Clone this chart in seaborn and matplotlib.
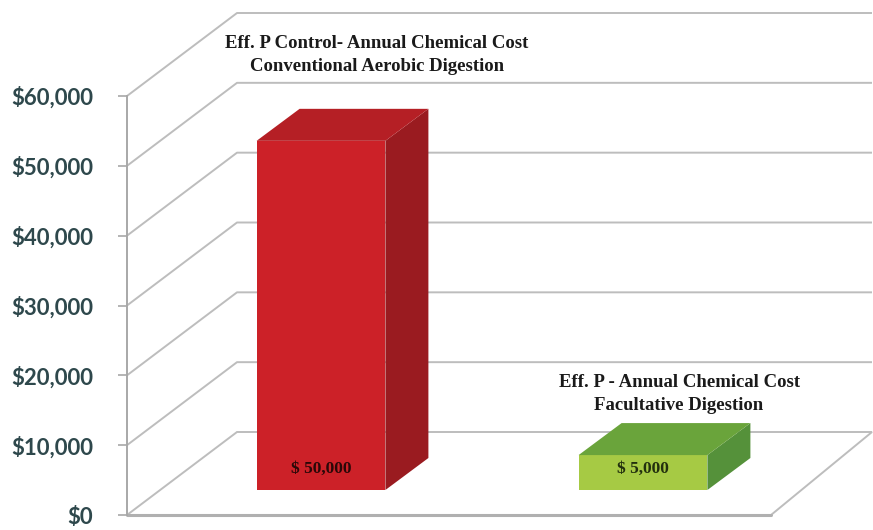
import matplotlib
matplotlib.use("Agg")
import matplotlib.pyplot as plt
from matplotlib.patches import Polygon
import seaborn as sns
import pandas as pd

# Annual chemical cost for effluent phosphorus control
digestion = ["Conventional Aerobic Digestion", "Facultative Digestion"]
annual_cost = [50000, 5000]
bar_titles = [
    "Eff. P Control- Annual Chemical Cost\nConventional Aerobic Digestion",
    "Eff. P - Annual Chemical Cost\nFacultative Digestion",
]
value_labels = ["$ 50,000", "$ 5,000"]
tick_values = [0, 10000, 20000, 30000, 40000, 50000, 60000]
tick_labels = ["$0", "$10,000", "$20,000", "$30,000", "$40,000", "$50,000", "$60,000"]

front_colors = ["#cc2128", "#a6ca44"]
top_colors = ["#b51f25", "#6aa43b"]
side_colors = ["#9a1b20", "#55913a"]
value_colors = ["#2a0808", "#22300e"]
grid_color = "#bdbdbd"

df = pd.DataFrame({"digestion": digestion, "cost": annual_cost})

W, H = 873, 530
sns.set_theme(style="white")
fig = plt.figure(figsize=(W / 100, H / 100), dpi=100)
fig.patch.set_facecolor("white")


def box(left, base, width, height):
    """Axes rectangle from pixel values measured from the top-left corner."""
    return [left / W, (H - base) / H, width / W, height / H]


PLANE_H = 419
ax_back = fig.add_axes(box(237, 432, 635, PLANE_H))   # back wall plane
ax = fig.add_axes(box(127, 515, 644, PLANE_H))        # front plane with the value axis
ax_bar = fig.add_axes(box(160, 490, 644, PLANE_H))    # plane the bars stand in

sns.barplot(data=df, x="digestion", y="cost", hue="digestion", palette=front_colors,
            width=0.4, saturation=1, linewidth=0, legend=False, ax=ax_bar)

for a in (ax_back, ax, ax_bar):
    a.set_xlim(-0.5, 1.5)
    a.set_ylim(0, 60000)
    a.patch.set_alpha(0)
    for s in a.spines.values():
        s.set_visible(False)
    a.set_xticks([])
    a.set_xlabel("")
    a.set_ylabel("")
ax_back.set_yticks([])
ax_bar.set_yticks([])
ax_back.set_zorder(0)
ax.set_zorder(1)
ax_bar.set_zorder(2)


def move(src, dst, x, y):
    return dst.transData.inverted().transform(src.transData.transform((x, y)))


# Back wall gridlines, each joined to its tick on the front axis
for v in tick_values[1:]:
    fx, fy = move(ax, ax_back, -0.5, v)
    ax_back.plot([fx, -0.5, 1.5], [fy, v, v], color=grid_color, lw=1.4,
                 clip_on=False, solid_capstyle="butt")

# Floor
corners = [move(ax, ax_back, -0.5, 0), move(ax, ax_back, 1.5, 0), (1.5, 0), (-0.5, 0)]
ax_back.add_patch(Polygon(corners, closed=True, fill=False, edgecolor=grid_color,
                          lw=1.4, clip_on=False, joinstyle="miter"))
fl, fr = corners[0], corners[1]
ax_back.plot([fl[0], fr[0]], [fl[1], fr[1]], color="#b0b0b0", lw=2.2, clip_on=False)

# Value axis
ax.spines["left"].set_visible(True)
ax.spines["left"].set_color("#a8a8a8")
ax.spines["left"].set_linewidth(1.4)
ax.set_yticks(tick_values, tick_labels)
ax.tick_params(axis="y", left=True, length=6.5, width=1.2, color="#a8a8a8",
               pad=18, labelsize=16, labelcolor="#2e484c")
for lbl in ax.get_yticklabels():
    lbl.set_fontfamily("Lato")
    lbl.set_fontweight("bold")

# Depth of the bars
x0d, y0d = ax_bar.transData.transform((0, 0))
x1d, y1d = ax_bar.transData.transform((1, 10000))
dx = 43 / (x1d - x0d)
dy = 32 * 10000 / (y1d - y0d)

for i, bar in enumerate(ax_bar.patches):
    x0 = bar.get_x()
    x1 = x0 + bar.get_width()
    h = bar.get_height()
    side = [(x1, 0), (x1 + dx, dy), (x1 + dx, h + dy), (x1, h)]
    top = [(x0, h), (x1, h), (x1 + dx, h + dy), (x0 + dx, h + dy)]
    ax_bar.add_patch(Polygon(side, closed=True, facecolor=side_colors[i], lw=0, clip_on=False))
    ax_bar.add_patch(Polygon(top, closed=True, facecolor=top_colors[i], lw=0, clip_on=False))
    ax_bar.text(x0 + bar.get_width() / 2, 3000, value_labels[i], ha="center", va="center",
                fontsize=12.5, fontweight="bold", family="Liberation Serif",
                color=value_colors[i], clip_on=False)

title_pos = [(0.174, 62300), (1.112, 13800)]
for (tx, ty), title in zip(title_pos, bar_titles):
    ax_bar.text(tx, ty, title, ha="center", va="center", fontsize=13.5,
                fontweight="bold", family="Liberation Serif", color="#1a1a1a",
                linespacing=1.45, clip_on=False)

fig.savefig("out.png", dpi=100)
